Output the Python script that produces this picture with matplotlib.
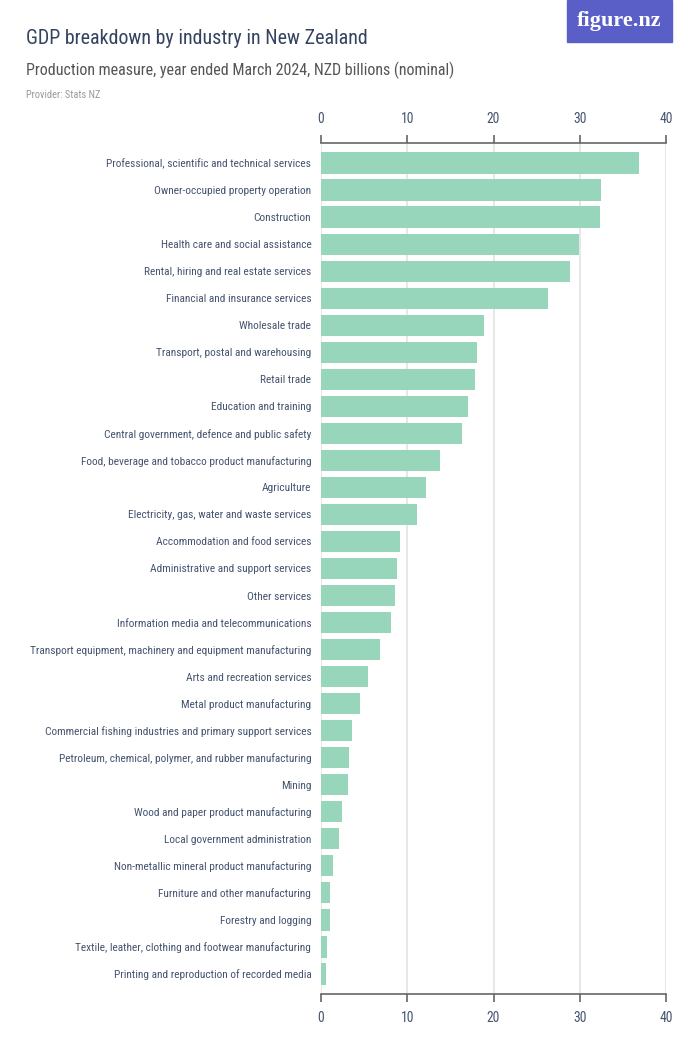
import matplotlib
matplotlib.use('Agg')
import matplotlib.pyplot as plt
from matplotlib import font_manager
from matplotlib.patches import Rectangle

industries = [
    'Professional, scientific and technical services',
    'Owner-occupied property operation',
    'Construction',
    'Health care and social assistance',
    'Rental, hiring and real estate services',
    'Financial and insurance services',
    'Wholesale trade',
    'Transport, postal and warehousing',
    'Retail trade',
    'Education and training',
    'Central government, defence and public safety',
    'Food, beverage and tobacco product manufacturing',
    'Agriculture',
    'Electricity, gas, water and waste services',
    'Accommodation and food services',
    'Administrative and support services',
    'Other services',
    'Information media and telecommunications',
    'Transport equipment, machinery and equipment manufacturing',
    'Arts and recreation services',
    'Metal product manufacturing',
    'Commercial fishing industries and primary support services',
    'Petroleum, chemical, polymer, and rubber manufacturing',
    'Mining',
    'Wood and paper product manufacturing',
    'Local government administration',
    'Non-metallic mineral product manufacturing',
    'Furniture and other manufacturing',
    'Forestry and logging',
    'Textile, leather, clothing and footwear manufacturing',
    'Printing and reproduction of recorded media',
]
gdp_billions = [36.9, 32.5, 32.4, 29.9, 28.9, 26.3, 18.9, 18.05, 17.85, 17.1,
                16.35, 13.75, 12.2, 11.1, 9.2, 8.85, 8.55, 8.1, 6.85, 5.4,
                4.5, 3.6, 3.3, 3.1, 2.4, 2.1, 1.4, 1.05, 1.0, 0.73, 0.6]
x_ticks = [0, 10, 20, 30, 40]


def pick_narrow_font():
    # the original uses a condensed face, use whatever narrow one is installed
    names = set(f.name for f in font_manager.fontManager.ttflist)
    for want in ['Roboto Condensed', 'Open Sans Condensed', 'Liberation Sans Narrow']:
        if want in names:
            return want
    return 'Roboto'


narrow = pick_narrow_font()
navy = '#34435f'
label_col = '#45546f'
bar_col = '#98d6bb'
plt.rcParams['font.family'] = [narrow, 'DejaVu Sans']

W, H = 700, 1050
fig = plt.figure(figsize=(7, 10.5), dpi=100)

# axes placed in pixel terms: left 321, right 666, top 143, bottom 994
ax = fig.add_axes([321 / W, 1 - 994 / H, 345 / W, 851 / H])
ypos = list(range(len(industries)))
ax.barh(ypos, gdp_billions, height=0.8, color=bar_col, zorder=2)
ax.set_xlim(0, 40)
ax.set_ylim(len(industries) - 0.25, -0.75)

ax.set_yticks(ypos)
ax.set_yticklabels(industries, fontsize=8.2, color=label_col)
ax.tick_params(axis='y', length=0, pad=7)

ax.set_xticks(x_ticks)
ax.tick_params(axis='x', top=True, labeltop=True, bottom=True, labelbottom=True,
               length=6, width=1.2, color='#666666', labelsize=9.8,
               labelcolor=label_col, pad=6)
for tk in x_ticks:
    ax.axvline(tk, color='#e3e3e3', lw=1.2, zorder=1)

for s in ['left', 'right']:
    ax.spines[s].set_visible(False)
for s in ['top', 'bottom']:
    ax.spines[s].set_color('#666666')
    ax.spines[s].set_linewidth(1.2)

fig.text(26 / W, 1 - 38 / H, 'GDP breakdown by industry in New Zealand',
         fontsize=14.4, color=navy, va='center', ha='left')
fig.text(26 / W, 1 - 70 / H, 'Production measure, year ended March 2024, NZD billions (nominal)',
         fontsize=11.5, color='#555555', va='center', ha='left')
fig.text(26 / W, 1 - 95 / H, 'Provider: Stats NZ',
         fontsize=7.5, color='#999999', va='center', ha='left')

# logo box
fig.patches.append(Rectangle((567 / W, 1 - 42 / H), 105 / W, 42 / H,
                             transform=fig.transFigure, color='#5a5fc8', zorder=5))
fig.text(619 / W, 1 - 21 / H, 'figure.nz', fontsize=16, color='white',
         family=['Liberation Serif', 'DejaVu Serif'], weight='bold',
         ha='center', va='center', zorder=6)

fig.savefig('out.png', dpi=100)
